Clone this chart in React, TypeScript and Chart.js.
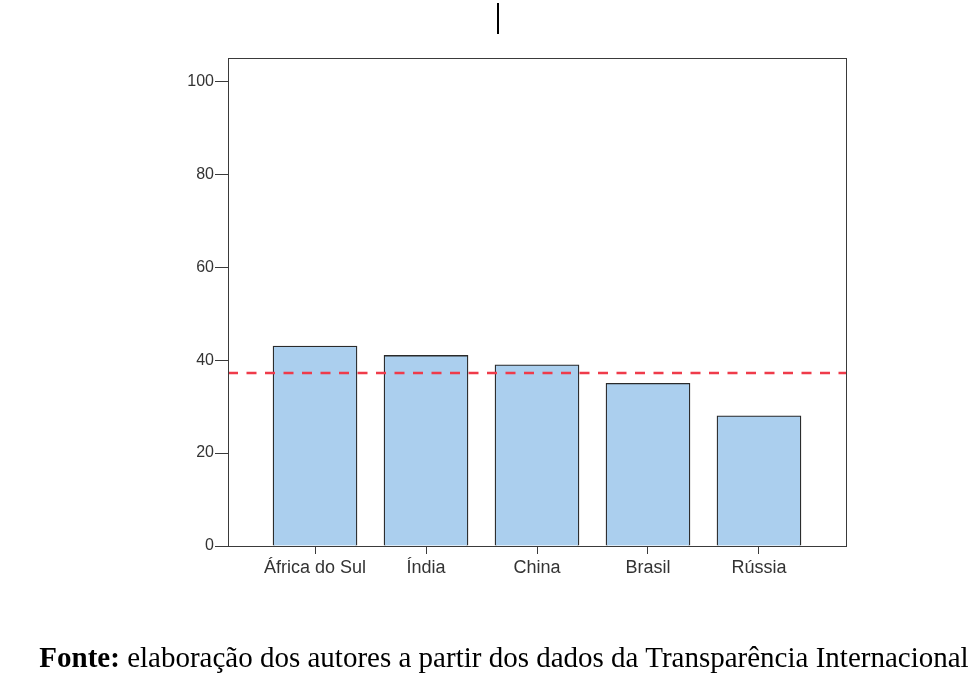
import React, { useEffect, useRef } from "react";
import { Chart, registerables } from "chart.js";

Chart.register(...registerables);

const categories = ["África do Sul", "Índia", "China", "Brasil", "Rússia"];
const values = [43, 41, 39, 35, 28];
const meanValue = 37.2;
const yTicks = [0, 20, 40, 60, 80, 100];
const yMax = 105;
const xPad = 0.784;
const sourceBold = "Fonte:";
const sourceText = " elaboração dos autores a partir dos dados da Transparência Internacional";

const framePlugin = {
  id: "frame",
  afterDraw(chart: any) {
    const { ctx, chartArea } = chart;
    ctx.save();
    ctx.strokeStyle = "#3a3a3a";
    ctx.lineWidth = 1;
    ctx.strokeRect(
      Math.round(chartArea.left) + 0.5,
      Math.round(chartArea.top) + 0.5,
      Math.round(chartArea.right - chartArea.left),
      Math.round(chartArea.bottom - chartArea.top)
    );
    ctx.restore();
  },
};

export default function App() {
  const ref = useRef<HTMLCanvasElement>(null);
  useEffect(() => {
    if (!ref.current) return;
    const chart = new Chart(ref.current, {
      type: "bar",
      data: {
        datasets: [
          {
            type: "bar",
            data: values.map((v, i) => ({ x: i, y: v })),
            backgroundColor: "#abcfee",
            borderColor: "#2a2a2a",
            borderWidth: 1.3,
            barThickness: 84,
            order: 2,
          } as any,
          {
            type: "line",
            data: [
              { x: -xPad, y: meanValue },
              { x: categories.length - 1 + xPad, y: meanValue },
            ],
            borderColor: "#ef3b4a",
            borderWidth: 2.5,
            borderDash: [10, 8.5],
            pointRadius: 0,
            fill: false,
            order: 1,
          } as any,
        ],
      },
      options: {
        responsive: false,
        animation: false,
        layout: { padding: { top: 58, right: 134, left: 0, bottom: 0 } },
        plugins: { legend: { display: false }, tooltip: { enabled: false } },
        scales: {
          x: {
            type: "linear",
            offset: false,
            min: -xPad,
            max: categories.length - 1 + xPad,
            afterBuildTicks: (s: any) => {
              s.ticks = categories.map((_, i) => ({ value: i }));
            },
            afterFit: (s: any) => {
              s.height = 137;
            },
            ticks: {
              callback: (v: any) => categories[v as number] ?? "",
              color: "#333",
              font: { family: "Liberation Sans", size: 18 },
              padding: 3,
              maxRotation: 0,
              autoSkip: false,
            },
            grid: { offset: false, drawOnChartArea: false, drawTicks: true, tickLength: 8, color: "#3a3a3a" },
            border: { display: false },
          },
          y: {
            min: 0,
            max: yMax,
            afterBuildTicks: (s: any) => {
              s.ticks = yTicks.map((v) => ({ value: v }));
            },
            afterFit: (s: any) => {
              s.width = 228;
            },
            ticks: {
              color: "#333",
              font: { family: "Liberation Sans", size: 16 },
              padding: 1,
            },
            grid: { drawOnChartArea: false, drawTicks: true, tickLength: 13, color: "#3a3a3a" },
            border: { display: false },
          },
        },
      } as any,
      plugins: [framePlugin],
    });
    return () => chart.destroy();
  }, []);

  return (
    <div style={{ position: "absolute", left: 0, top: 0, width: 980, height: 683, background: "#fff" }}>
      <div style={{ position: "absolute", left: 497, top: 3, width: 2, height: 31, background: "#000" }} />
      <canvas ref={ref} width={980} height={683} style={{ position: "absolute", left: 0, top: 0 }} />
      <div
        style={{
          position: "absolute",
          left: 0,
          width: 1008,
          top: 642,
          textAlign: "center",
          whiteSpace: "nowrap",
          fontFamily: "'Liberation Serif', 'Times New Roman', serif",
          fontSize: 29,
          color: "#000",
          lineHeight: "30px",
        }}
      >
        <b>{sourceBold}</b>
        {sourceText}
      </div>
    </div>
  );
}
